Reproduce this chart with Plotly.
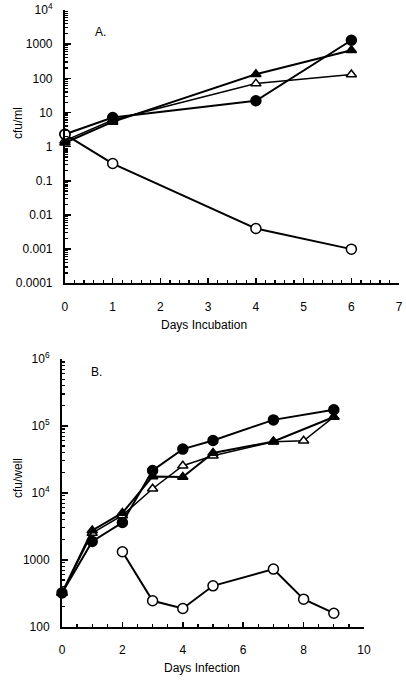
import plotly.graph_objects as go

# ---------------- data ----------------
days_a = [0, 1, 4, 6]
a_filled_circle = [2.3, 7.1, 22, 1300]
a_filled_tri = [1.3, 5.3, 132, 660]
a_open_tri = [1.5, 6.0, 70, 130]
a_open_circle = [2.3, 0.32, 0.004, 0.001]

days_b = [0, 1, 2, 3, 4, 5, 7, 9]
b_filled_circle = [320, 1880, 3600, 21600, 45000, 60600, 123000, 174000]
b_filled_tri = [320, 2740, 5000, 17600, 17200, 39400, 58500, 136000]
days_b_open_tri = [0, 1, 2, 3, 4, 5, 7, 8, 9]
b_open_tri = [320, 2500, 4600, 11500, 25400, 35900, 58000, 60000, 136000]
days_b_open_circle = [2, 3, 4, 5, 7, 8, 9]
b_open_circle = [1320, 244, 187, 408, 725, 258, 159]

a_ytick_vals = [1e-4, 1e-3, 1e-2, 1e-1, 1, 10, 100, 1000, 1e4]
a_ytick_text = ["0.0001", "0.001", "0.01", "0.1", "1", "10", "100", "1000", "10<sup>4</sup>"]
b_ytick_vals = [100, 1000, 1e4, 1e5, 1e6]
b_ytick_text = ["100", "1000", "10<sup>4</sup>", "10<sup>5</sup>", "10<sup>6</sup>"]

FONT = "Liberation Sans, Arial, Helvetica, sans-serif"


def minor_log(lo, hi):
    vals = []
    for e in range(lo, hi):
        for m in range(2, 10):
            vals.append(m * 10 ** e)
    return vals


fig = go.Figure()


def add(x, y, symbol, filled, xa, ya, width=2.0):
    fig.add_trace(go.Scatter(
        x=x, y=y, xaxis=xa, yaxis=ya, mode="lines+markers",
        line=dict(color="black", width=width),
        marker=dict(symbol=symbol, size=10 if symbol == "circle" else 9,
                    color="black" if filled else "white",
                    line=dict(color="black", width=1.5)),
        cliponaxis=False, showlegend=False, hoverinfo="skip"))


# Panel A
add(days_a, a_open_tri, "triangle-up", False, "x", "y", 1.5)
add(days_a, a_filled_tri, "triangle-up", True, "x", "y")
add(days_a, a_filled_circle, "circle", True, "x", "y")
add(days_a, a_open_circle, "circle", False, "x", "y")

# Panel B
add(days_b_open_tri, b_open_tri, "triangle-up", False, "x2", "y2", 1.5)
add(days_b, b_filled_tri, "triangle-up", True, "x2", "y2")
add(days_b, b_filled_circle, "circle", True, "x2", "y2")
add(days_b_open_circle, b_open_circle, "circle", False, "x2", "y2")

axis_common = dict(showline=True, linecolor="black", linewidth=2, showgrid=False,
                   zeroline=False, ticks="inside", tickcolor="black", tickwidth=1.5,
                   mirror=False, automargin=False, ticklabeloverflow="allow",
                   tickfont=dict(family=FONT, size=12, color="black"))

fig.update_layout(
    width=406, height=680,
    margin=dict(l=0, r=0, t=0, b=0),
    paper_bgcolor="white", plot_bgcolor="white",
    font=dict(family=FONT, size=12, color="black"),
    xaxis=dict(domain=[0.160, 0.983], anchor="y", range=[0, 7], dtick=1,
               tick0=0, ticklen=5, ticklabelstandoff=11,
               minor=dict(ticks="inside", dtick=0.2, ticklen=3, tickcolor="black",
                          tickwidth=1.2, showgrid=False),
               **axis_common),
    yaxis=dict(domain=[0.5834, 0.9853], anchor="x", type="log", range=[-4, 4],
               tickvals=a_ytick_vals, ticktext=a_ytick_text, ticklen=6,
               ticklabelstandoff=8,
               minor=dict(ticks="inside", tickvals=minor_log(-4, 4), ticklen=3,
                          tickcolor="black", tickwidth=1.2, showgrid=False),
               **axis_common),
    xaxis2=dict(domain=[0.1527, 0.8966], anchor="y2", range=[0, 10], dtick=2,
                tick0=0, ticklen=5, ticklabelstandoff=11,
                minor=dict(ticks="inside", dtick=0.5, ticklen=3, tickcolor="black",
                           tickwidth=1.2, showgrid=False),
                **axis_common),
    yaxis2=dict(domain=[0.0784, 0.4721], anchor="x2", type="log", range=[2, 6],
                tickvals=b_ytick_vals, ticktext=b_ytick_text, ticklen=6,
                ticklabelstandoff=8,
                minor=dict(ticks="inside", tickvals=minor_log(2, 6), ticklen=3,
                           tickcolor="black", tickwidth=1.2, showgrid=False),
                **axis_common),
)

# text labels positioned in pixels, converted to paper coordinates
W, H = 406, 680
labels = [("A.", 100, 32, 0), ("B.", 96, 372, 0),
          ("Days Incubation", 204, 325, 0), ("Days Infection", 202, 668, 0),
          ("cfu/ml", 18, 123, -90), ("cfu/well", 18, 478, -90)]
for text, px, py, ang in labels:
    fig.add_annotation(text=text, x=px / W, y=1 - py / H, xref="paper", yref="paper",
                       xanchor="center", yanchor="middle", showarrow=False,
                       textangle=ang, font=dict(family=FONT, size=12, color="black"))

fig.write_html("out.html",
               config={"displayModeBar": False, "staticPlot": True},
               post_script="document.body.style.margin='0';"
                           "document.body.style.overflow='hidden';")
